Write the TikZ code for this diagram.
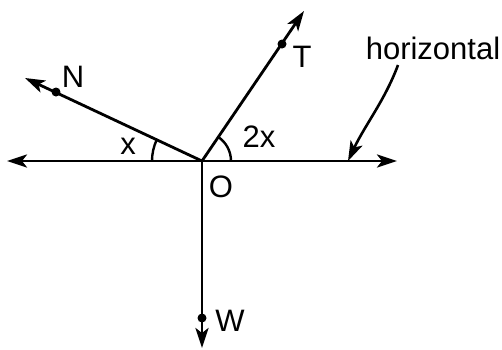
\documentclass[tikz,border=0pt]{standalone}
\usepackage{fontspec}
\setmainfont{Liberation Sans}
\usetikzlibrary{arrows.meta}
\begin{document}
\begin{tikzpicture}[x=1pt,y=-1pt,
  ray/.style={line width=2.8pt,-{Stealth[length=20pt,width=13pt,inset=5pt]}},
  pt/.style={circle,fill=black,inner sep=0pt,minimum size=9pt},
  lbl/.style={inner sep=0pt,font=\fontsize{31}{36}\selectfont},
  anglearc/.style={line width=2.4pt}]
\useasboundingbox (0,0) rectangle (502,349);
\coordinate (O) at (202,161);
\coordinate (L) at (7,161);
\coordinate (R) at (397,161);
\coordinate (Ntip) at (25,78);
\coordinate (Ttip) at (304,11);
\coordinate (Wtip) at (202,348);
\coordinate (H) at (348,161);
\draw[ray] (O) -- (L);
\draw[ray] (O) -- (R);
\draw[ray] (O) -- (Ntip);
\draw[ray] (O) -- (Ttip);
\draw[ray] (O) -- (Wtip);
\node[pt] (Nd) at (56,92) {};
\node[pt] (Td) at (282,44) {};
\node[pt] (Wd) at (202,318) {};
\draw[anglearc] ([shift={(180:50)}]O) arc[start angle=180,end angle=205.1,radius=50];
\draw[anglearc] ([shift={(0:29)}]O) arc[start angle=0,end angle=-55.8,radius=29];
\node[lbl] (Nl) at (73,77) {N};
\node[lbl] (Tl) at (302,57) {T};
\node[lbl] (Wl) at (230,321) {W};
\node[lbl] (Ol) at (221,187) {O};
\node[lbl] (xl) at (128,146) {x};
\node[lbl] (x2l) at (259,137) {2x};
\node[lbl] (hl) at (433,48) {horizontal};
\coordinate (hs) at (398,65);
\draw[line width=2.6pt,-{Stealth[length=20pt,width=13pt,inset=5pt]}] (hs) .. controls (385,100) and (365,125) .. (H);
\end{tikzpicture}
\end{document}
